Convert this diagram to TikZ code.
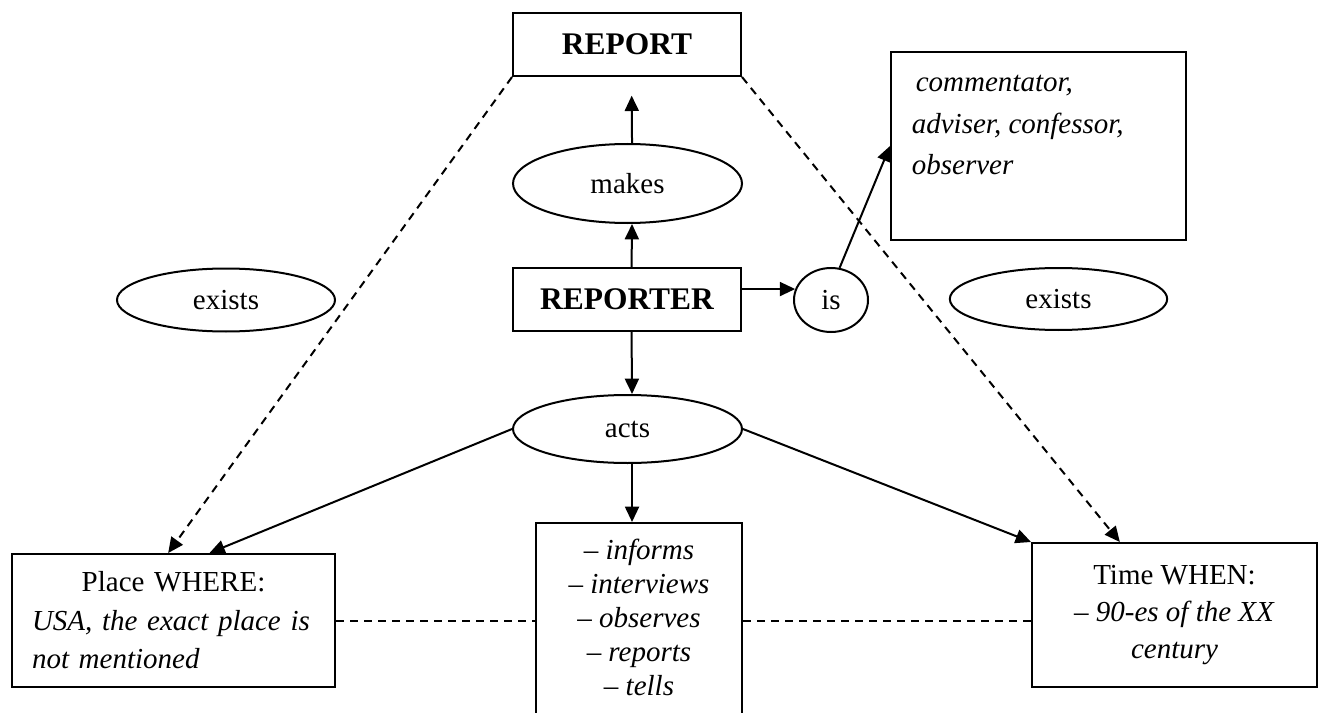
\documentclass[tikz,border=0pt]{standalone}
\usepackage{fontspec}
\setmainfont{Liberation Serif}
\usetikzlibrary{%
  arrows.meta,%
  shapes.geometric,% wg. ellipse
  positioning%
}

\begin{document}
\begin{tikzpicture}[
  x=0.75pt, y=-0.75pt,
  font=\fontsize{21.75}{26}\selectfont,
  >={Triangle[length=11.5pt,width=10.5pt]},
  line width=1.5pt,
  box/.style={draw, rectangle, inner sep=0pt},
  oval/.style={draw, ellipse, inner sep=0pt},
  dashline/.style={dash pattern=on 6pt off 4.5pt},
  heading/.style={font=\fontsize{23.6}{28}\selectfont\bfseries},
]
\useasboundingbox (0,0) rectangle (1324,713);

% central column
\node[box, heading, minimum width=171pt, minimum height=47.25pt] (report) at (627,44.5) {REPORT};
\node[oval, minimum width=171.75pt, minimum height=59.25pt] (makes) at (627.5,183.5) {makes};
\node[box, heading, minimum width=171pt, minimum height=47.25pt] (reporter) at (627,299.5) {REPORTER};
\node[oval, minimum width=171.75pt, minimum height=51pt] (acts) at (627.5,429) {acts};
\node[box, anchor=north, minimum width=154.5pt] (actions) at (639,522) {%
  \parbox[c][172pt][t]{150pt}{\centering\fontsize{21.75}{25.5}\selectfont\itshape
  \rule{0pt}{27pt}– informs\\ – interviews\\ – observes\\ – reports\\ – tells}};

% right of reporter
\node[oval, minimum width=55.5pt, minimum height=48pt] (is) at (831,300) {is};
\node[box, minimum width=221.25pt] (roles) at (1038.5,146) {%
  \parbox[c][141pt][t]{190pt}{\fontsize{21.75}{31}\selectfont\itshape
  \rule{0pt}{30pt}\hspace{3pt}commentator,\\ adviser, confessor,\\ observer}};

% side ovals
\node[oval, minimum width=163.5pt, minimum height=47.25pt] (existsl) at (226,300) {exists};
\node[oval, minimum width=163pt, minimum height=46.5pt] (existsr) at (1058.5,299) {exists};

% bottom boxes
\node[box, minimum width=242.25pt, minimum height=99.75pt, text width=212.25pt, align=left,
  font=\fontsize{21.75}{28.9}\selectfont] (place) at (173.5,620.5)
  {\makebox[212.25pt]{Place WHERE:}\\ \mbox{\itshape USA, the exact place is}\\ \mbox{\itshape not mentioned}};
\node[box, minimum width=213.75pt, minimum height=108pt, align=center,
  font=\fontsize{21.75}{28.1}\selectfont] (time) at (1174.5,615)
  {Time WHEN:\\ \textit{– 90-es of the XX}\\ \textit{century}};

% connectors
\draw[->] ([xshift=3.4pt]reporter.north) -- ([xshift=3.4pt]makes.south);
\draw[->, shorten >=14pt] ([xshift=3.4pt]makes.north) -- ([xshift=3.4pt]report.south);
\draw[->] (reporter.east |- is.163) -- (is.163);
\draw[->] (is.75) -- (roles.west);
\draw[->] ([xshift=3.4pt]reporter.south) -- ([xshift=3.4pt]acts.north);
\draw[->] ([xshift=3.4pt]acts.south) -- ([xshift=3.4pt]acts.south |- actions.north);
\draw[->] (acts.west) -- ([xshift=27pt]place.north);
\draw[->] (acts.east) -- (time.north west);
\draw[->, dashline] (report.south west) -- ([xshift=-4pt]place.north);
\draw[->, dashline] (report.south east) -- ([xshift=-41pt]time.north);
\draw[dashline] (place.east) -- (place.east -| actions.west);
\draw[dashline] (place.east -| actions.east) -- (place.east -| time.west);

\end{tikzpicture}
\end{document}
